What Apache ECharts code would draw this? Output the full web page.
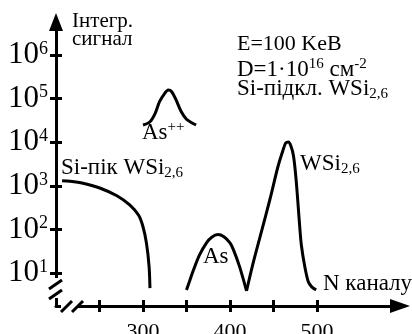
<!DOCTYPE html>
<html><head><meta charset="utf-8">
<script src="https://cdn.jsdelivr.net/npm/echarts@6/dist/echarts.min.js"></script>
<style>html,body{margin:0;padding:0;background:#fff}#c{width:412px;height:334px}</style>
</head><body><div id="c"></div>
<script>
const FONT = 'Liberation Serif';

// Axis tick values
const yTickPowers = [1, 2, 3, 4, 5, 6];           // 10^1 ... 10^6
const xTickValues = [250, 300, 350, 400, 450, 500];
const xLabelValues = [300, 400, 500];

// Si peak of WSi2,6 (channel, counts)
const siChannels = [207, 216, 231, 251, 270, 285, 295, 300, 304, 307, 308];
const siCounts   = [1310, 1270, 1140, 880, 590, 360, 210, 115, 48, 14, 4.5];

// As++ peak
const asppChannels = [300, 308, 314, 319, 325, 329, 333, 338, 344, 350, 356, 361];
const asppCounts   = [24800, 29500, 46000, 85000, 132000, 157000, 144000, 93000, 50000, 33500, 28000, 24800];

// As peak
const asChannels = [350, 354, 358, 365, 373, 379, 386, 393, 400, 404, 411, 419];
const asCounts   = [4.1, 6.9, 11.7, 26, 49, 66, 76, 68, 49, 34, 14, 3.9];

// W peak of WSi2,6
const wChannels = [419, 426, 436, 446, 455, 461, 464, 467, 470, 473, 476, 480, 482, 486, 490, 494, 499];
const wCounts   = [3.9, 15.2, 87, 498, 2700, 6620, 9600, 10100, 8180, 4820, 1360, 126, 44, 13.9, 6.3, 4.8, 4.1];

function pts(xs, ys) { return xs.map((x, i) => [x, Math.log10(ys[i])]); }

const chart = echarts.init(document.getElementById('c'), null, {renderer: 'canvas'});

const lineSer = (name, xs, ys) => ({
  name, type: 'line', data: pts(xs, ys), smooth: 0.3, showSymbol: false, symbol: 'none',
  lineStyle: {color: '#000', width: 3}, itemStyle: {color: '#000'}, silent: true, z: 5
});

const Y_MIN = 0.243, Y_MAX = 6.757;
const X_MIN = 200, X_MAX = 595.4;

function rt(x, y, text) {
  return {type: 'text', x, y, z: 100, style: {
    text, fill: '#000', fontSize: 23, fontFamily: FONT,
    rich: {
      n: {fontSize: 23, fontFamily: FONT, lineHeight: 26, fill: '#000', verticalAlign: 'middle'},
      sup: {fontSize: 15, fontFamily: FONT, lineHeight: 15, fill: '#000', verticalAlign: 'top'},
      sub: {fontSize: 15, fontFamily: FONT, lineHeight: 15, fill: '#000', verticalAlign: 'bottom'}
    }
  }};
}
function pt(x, y, text, size) {
  return {type: 'text', x, y, z: 100, style: {text, fill: '#000', fontSize: size, fontFamily: FONT}};
}

chart.setOption({
  animation: false,
  backgroundColor: '#fff',
  grid: {left: 56, right: 12, top: 22, bottom: 28, containLabel: false, outerBoundsMode: 'none'},
  xAxis: [{
    type: 'value', min: X_MIN, max: X_MAX,
    axisLine: {show: true, lineStyle: {color: '#000', width: 3}, symbol: ['none', 'triangle'], symbolSize: [14, 20]},
    axisTick: {show: true, inside: false, length: 6, lineStyle: {color: '#000', width: 3}, customValues: xTickValues},
    axisLabel: {show: true, customValues: xLabelValues, margin: 15, color: '#000', fontSize: 22, fontFamily: FONT},
    splitLine: {show: false}
  }, {
    type: 'value', min: X_MIN, max: X_MAX, position: 'bottom',
    axisLine: {show: false},
    axisTick: {show: true, inside: true, length: 6, lineStyle: {color: '#000', width: 3}, customValues: xTickValues},
    axisLabel: {show: false},
    splitLine: {show: false}
  }],
  yAxis: [{
    type: 'value', min: Y_MIN, max: Y_MAX,
    axisLine: {show: true, lineStyle: {color: '#000', width: 3}, symbol: ['none', 'triangle'], symbolSize: [14, 18]},
    axisTick: {show: true, inside: false, length: 6, lineStyle: {color: '#000', width: 3}, customValues: yTickPowers},
    axisLabel: {
      show: true, customValues: yTickPowers, margin: 8,
      formatter: v => '{b|10}{s|' + Math.round(v) + '}',
      rich: {
        b: {fontSize: 31, fontFamily: FONT, color: '#000', lineHeight: 30},
        s: {fontSize: 18, fontFamily: FONT, color: '#000', lineHeight: 18, verticalAlign: 'top'}
      }
    },
    splitLine: {show: false}
  }, {
    type: 'value', min: Y_MIN, max: Y_MAX, position: 'left',
    axisLine: {show: false},
    axisTick: {show: true, inside: true, length: 6, lineStyle: {color: '#000', width: 3}, customValues: yTickPowers},
    axisLabel: {show: false},
    splitLine: {show: false}
  }],
  series: [
    lineSer('Si-пік WSi2,6', siChannels, siCounts),
    lineSer('As++', asppChannels, asppCounts),
    lineSer('As', asChannels, asCounts),
    lineSer('WSi2,6', wChannels, wCounts)
  ],
  graphic: [
    // axis break
    {type: 'rect', z: 90, shape: {x: 47, y: 278, width: 16, height: 20}, style: {fill: '#fff'}},
    {type: 'rect', z: 90, shape: {x: 61, y: 300, width: 16, height: 12}, style: {fill: '#fff'}},
    {type: 'line', z: 95, shape: {x1: 49, y1: 289, x2: 62, y2: 280}, style: {stroke: '#000', lineWidth: 3}},
    {type: 'line', z: 95, shape: {x1: 49, y1: 299, x2: 62, y2: 290}, style: {stroke: '#000', lineWidth: 3}},
    {type: 'line', z: 95, shape: {x1: 61, y1: 312, x2: 72, y2: 301}, style: {stroke: '#000', lineWidth: 3}},
    {type: 'line', z: 95, shape: {x1: 72, y1: 312, x2: 83, y2: 301}, style: {stroke: '#000', lineWidth: 3}},
    // texts
    pt(72, 11, 'Інтегр.', 21),
    pt(72, 29, 'сигнал', 21),
    pt(237, 33, 'E=100 KeB', 22),
    rt(237, 57, '{n|D=1·10}{sup|16}{n| см}{sup|-2}'),
    rt(237, 76, '{n|Si-підкл. WSi}{sub|2,6}'),
    rt(61, 155, '{n|Si-пік WSi}{sub|2,6}'),
    rt(142, 120, '{n|As}{sup|++}'),
    pt(203, 245, 'As', 23),
    rt(300, 151, '{n|WSi}{sub|2,6}'),
    pt(323, 272, 'N каналу', 23)
  ]
});
</script>
</body></html>
